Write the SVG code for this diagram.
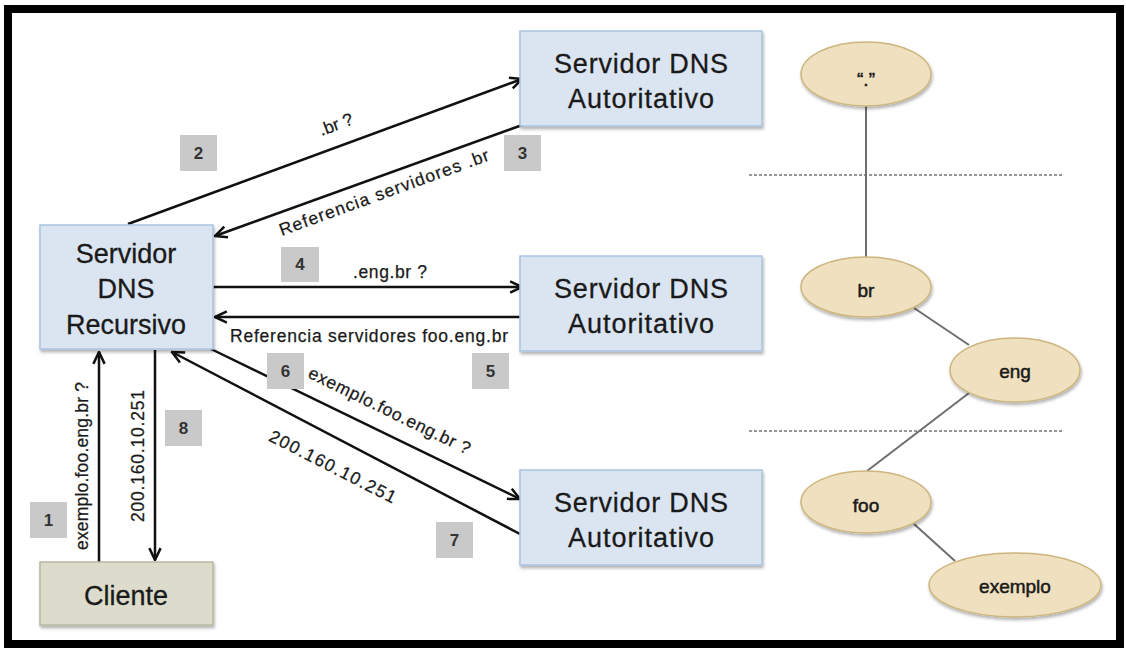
<svg xmlns="http://www.w3.org/2000/svg" width="1126" height="651" viewBox="0 0 1126 651">
  <defs>
    <marker id="arrow" viewBox="0 0 12 12" refX="11" refY="6" markerWidth="15" markerHeight="15" markerUnits="userSpaceOnUse" orient="auto">
      <path d="M1.5,1.5 L11,6 L1.5,10.5" fill="none" stroke="#111" stroke-width="2" stroke-linejoin="miter"/>
    </marker>
    <filter id="shadow" x="-10%" y="-10%" width="125%" height="130%">
      <feDropShadow dx="1" dy="2.5" stdDeviation="1.5" flood-color="#000" flood-opacity="0.3"/>
    </filter>
  </defs>
  <style>
    .server { fill: #dbe5f1; stroke: #a9c3df; stroke-width: 1.5; filter: url(#shadow); }
    .client { fill: #dddccc; stroke: #b9b89f; stroke-width: 1.5; filter: url(#shadow); }
    .zone { fill: #efe0bf; stroke: #cdb57e; stroke-width: 1.5; filter: url(#shadow); }
    .box-text { font-family: "Liberation Sans", Arial, sans-serif; font-size: 27px; fill: #1a1a1a; stroke: #1a1a1a; stroke-width: 0.3; text-anchor: middle; }
    .zone-text { font-family: "Liberation Sans", Arial, sans-serif; font-size: 19px; fill: #1a1a1a; stroke: #1a1a1a; stroke-width: 0.5; text-anchor: middle; }
    .label { font-family: "Liberation Sans", Arial, sans-serif; font-size: 17.5px; fill: #1a1a1a; stroke: #1a1a1a; stroke-width: 0.25; text-anchor: middle; }
    .step { fill: #c9c9c9; }
    .step-text { font-family: "Liberation Sans", Arial, sans-serif; font-size: 17px; font-weight: bold; fill: #333; text-anchor: middle; }
    .flow { stroke: #111; stroke-width: 2.5; fill: none; marker-end: url(#arrow); }
    .tree { stroke: #6e6e6e; stroke-width: 2; fill: none; }
    .level { stroke: #777; stroke-width: 1.5; stroke-dasharray: 3 2; fill: none; }
  </style>

  <!-- frame -->
  <rect x="0" y="0" width="1126" height="651" fill="#fff"/>
  <rect x="8" y="9" width="1112" height="635" fill="none" stroke="#000" stroke-width="8"/>

  <!-- zone levels -->
  <g id="levels">
    <line class="level" x1="749" y1="175" x2="1063" y2="175"/>
    <line class="level" x1="749" y1="431" x2="1063" y2="431"/>
  </g>

  <!-- DNS tree edges -->
  <g id="tree-edges">
    <line class="tree" x1="866" y1="106" x2="866" y2="257"/>
    <line class="tree" x1="914" y1="308" x2="969" y2="345"/>
    <line class="tree" x1="969" y1="393" x2="867" y2="471"/>
    <line class="tree" x1="914" y1="524" x2="955" y2="561"/>
  </g>

  <!-- message flows -->
  <g id="connectors">
    <line class="flow" x1="128" y1="224" x2="522" y2="79"/>
    <line class="flow" x1="525" y1="124" x2="215" y2="236"/>
    <line class="flow" x1="213" y1="287" x2="522" y2="287"/>
    <line class="flow" x1="520" y1="317" x2="215" y2="317"/>
    <line class="flow" x1="211" y1="349" x2="520" y2="499"/>
    <line class="flow" x1="520" y1="534" x2="172" y2="352"/>
    <line class="flow" x1="99" y1="562" x2="99" y2="352"/>
    <line class="flow" x1="155" y1="350" x2="155" y2="560"/>
  </g>

  <!-- connector labels -->
  <g id="connector-labels">
    <text class="label" transform="translate(338,130) rotate(-20.4)">.br ?</text>
    <text class="label" transform="translate(386,198) rotate(-20)" textLength="222" lengthAdjust="spacing">Referencia servidores .br</text>
    <text class="label" x="390" y="278" textLength="74" lengthAdjust="spacing">.eng.br ?</text>
    <text class="label" x="369" y="342" textLength="278" lengthAdjust="spacing">Referencia servidores foo.eng.br</text>
    <text class="label" transform="translate(387,416) rotate(25.9)" textLength="178" lengthAdjust="spacing">exemplo.foo.eng.br ?</text>
    <text class="label" transform="translate(330,472) rotate(27)" textLength="140" lengthAdjust="spacing">200.160.10.251</text>
    <text class="label" transform="translate(88,466) rotate(-90)" textLength="168" lengthAdjust="spacing">exemplo.foo.eng.br ?</text>
    <text class="label" transform="translate(144,456) rotate(-90)" textLength="132" lengthAdjust="spacing">200.160.10.251</text>
  </g>

  <!-- step numbers -->
  <g id="step-1"><rect class="step" x="30" y="502" width="37" height="36"/><text class="step-text" x="48.5" y="526">1</text></g>
  <g id="step-2"><rect class="step" x="180" y="135" width="37" height="36"/><text class="step-text" x="198.5" y="159">2</text></g>
  <g id="step-3"><rect class="step" x="504" y="135" width="37" height="36"/><text class="step-text" x="522.5" y="159">3</text></g>
  <g id="step-4"><rect class="step" x="281" y="247" width="38" height="35"/><text class="step-text" x="300" y="270">4</text></g>
  <g id="step-5"><rect class="step" x="472" y="353" width="37" height="36"/><text class="step-text" x="490.5" y="377">5</text></g>
  <g id="step-6"><rect class="step" x="267" y="353" width="37" height="36"/><text class="step-text" x="285.5" y="377">6</text></g>
  <g id="step-7"><rect class="step" x="436" y="522" width="37" height="36"/><text class="step-text" x="454.5" y="546">7</text></g>
  <g id="step-8"><rect class="step" x="165" y="410" width="37" height="36"/><text class="step-text" x="183.5" y="434">8</text></g>

  <!-- servers -->
  <g id="recursive-server">
    <rect class="server" x="40" y="225" width="173" height="124"/>
    <text class="box-text" x="126" y="263">Servidor</text>
    <text class="box-text" x="126" y="298">DNS</text>
    <text class="box-text" x="126" y="334">Recursivo</text>
  </g>
  <g id="client">
    <rect class="client" x="40" y="562" width="173" height="63"/>
    <text class="box-text" x="126" y="605">Cliente</text>
  </g>
  <g id="auth-root">
    <rect class="server" x="520" y="31" width="242" height="95"/>
    <text class="box-text" x="641" y="73" textLength="174" lengthAdjust="spacing">Servidor DNS</text>
    <text class="box-text" x="641" y="108" textLength="146" lengthAdjust="spacing">Autoritativo</text>
  </g>
  <g id="auth-br">
    <rect class="server" x="520" y="256" width="242" height="95"/>
    <text class="box-text" x="641" y="298" textLength="174" lengthAdjust="spacing">Servidor DNS</text>
    <text class="box-text" x="641" y="333" textLength="146" lengthAdjust="spacing">Autoritativo</text>
  </g>
  <g id="auth-foo">
    <rect class="server" x="520" y="470" width="242" height="95"/>
    <text class="box-text" x="641" y="512" textLength="174" lengthAdjust="spacing">Servidor DNS</text>
    <text class="box-text" x="641" y="547" textLength="146" lengthAdjust="spacing">Autoritativo</text>
  </g>

  <!-- DNS tree nodes -->
  <g id="zone-root">
    <ellipse class="zone" cx="866" cy="74" rx="65" ry="32"/>
    <text class="zone-text" x="866" y="86" font-size="24">“.”</text>
  </g>
  <g id="zone-br">
    <ellipse class="zone" cx="866" cy="287" rx="65" ry="30"/>
    <text class="zone-text" x="866" y="297">br</text>
  </g>
  <g id="zone-eng">
    <ellipse class="zone" cx="1015" cy="370" rx="65" ry="32"/>
    <text class="zone-text" x="1015" y="378">eng</text>
  </g>
  <g id="zone-foo">
    <ellipse class="zone" cx="866" cy="502" rx="65" ry="31"/>
    <text class="zone-text" x="866" y="512">foo</text>
  </g>
  <g id="zone-exemplo">
    <ellipse class="zone" cx="1015" cy="585" rx="86" ry="32"/>
    <text class="zone-text" x="1015" y="593">exemplo</text>
  </g>
</svg>
